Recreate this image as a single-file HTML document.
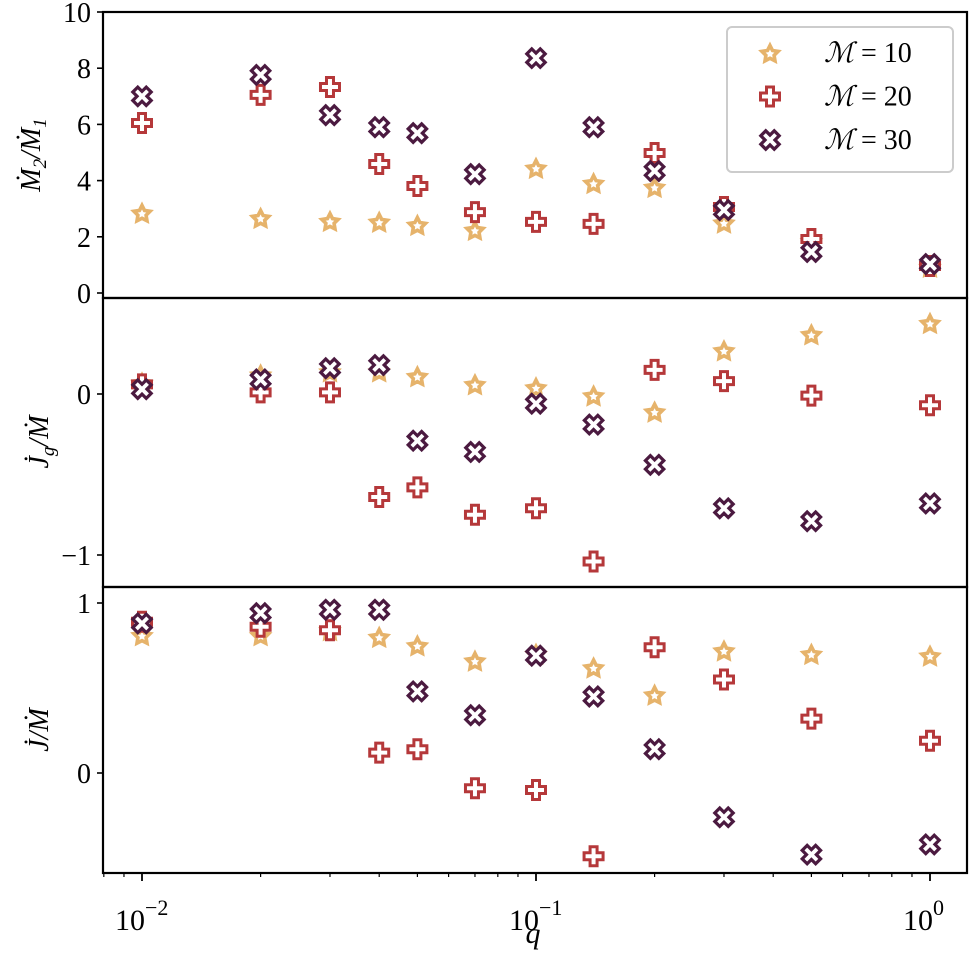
<!DOCTYPE html>
<html><head><meta charset="utf-8"><style>
body{margin:0;background:#fff}
svg{display:block;font-family:"Liberation Serif",serif}
</style></head><body>
<svg id="c" width="969" height="955" xmlns="http://www.w3.org/2000/svg"></svg>
<script>
const qValues=[0.01,0.02,0.03,0.04,0.05,0.07,0.1,0.14,0.2,0.3,0.5,1.0];
const seriesNames=["M10","M20","M30"];
const mdotM10=[2.85,2.67,2.56,2.53,2.42,2.24,4.45,3.91,3.77,2.5,1.85,0.93];
const mdotM20=[6.05,7.05,7.33,4.59,3.81,2.88,2.53,2.46,4.98,3.06,1.92,0.96];
const mdotM30=[7.0,7.76,6.33,5.9,5.69,4.23,8.36,5.9,4.34,2.95,1.46,1.03];
const jgM10=[0.07,0.12,0.14,0.14,0.11,0.06,0.04,-0.01,-0.11,0.27,0.37,0.44];
const jgM20=[0.06,0.01,0.01,-0.64,-0.58,-0.75,-0.71,-1.04,0.15,0.08,-0.01,-0.07];
const jgM30=[0.03,0.09,0.16,0.18,-0.29,-0.36,-0.06,-0.19,-0.44,-0.71,-0.79,-0.68];
const jM10=[0.81,0.81,0.84,0.80,0.75,0.66,0.70,0.62,0.46,0.72,0.70,0.69];
const jM20=[0.89,0.86,0.84,0.12,0.14,-0.09,-0.10,-0.49,0.74,0.55,0.32,0.19];
const jM30=[0.88,0.94,0.96,0.96,0.48,0.34,0.69,0.45,0.14,-0.26,-0.48,-0.42];
const ticks1=[0,2,4,6,8,10], ticks2=[-1,0], ticks3=[0,1];
const xTicks=[-2,-1,0];

const NS="http://www.w3.org/2000/svg";
const svg=document.getElementById('c');
function mk(t,a,p){const e=document.createElementNS(NS,t);for(const k in a)e.setAttribute(k,a[k]);(p||svg).appendChild(e);return e;}
const L=103,R=967;
const xs=v=>142+(Math.log10(v)+2)*394;
const panels=[
 {top:12,bot:298,y:v=>293-v*28.1,ticks:ticks1,data:[mdotM10,mdotM20,mdotM30],name:'mdot-ratio-panel'},
 {top:298,bot:587,y:v=>394-v*161,ticks:ticks2,data:[jgM10,jgM20,jgM30],name:'jg-panel'},
 {top:587,bot:873,y:v=>773-v*170,ticks:ticks3,data:[jM10,jM20,jM30],name:'j-panel'}
];
const colors=["#e6b36b","#b5383a","#4b1a40"];
const plusP="M-3.5,-9.5H3.5V-3.5H9.5V3.5H3.5V9.5H-3.5V3.5H-9.5V-3.5H-3.5Z";
function starP(ro,ri){let d="";for(let i=0;i<10;i++){const r=i%2?ri:ro,a=-Math.PI/2+i*Math.PI/5;d+=(i?"L":"M")+(r*Math.cos(a)).toFixed(2)+","+(r*Math.sin(a)).toFixed(2);}return d+"Z";}
const starPath=starP(8.5,4.3);
function marker(k,x,y,g){
 let e;
 if(k===0)e=mk('path',{d:starPath,transform:`translate(${x},${y+1})`,fill:'#fff',stroke:colors[0],'stroke-width':3.6,'stroke-linejoin':'miter'},g);
 else if(k===1)e=mk('path',{d:plusP,transform:`translate(${x},${y})`,fill:'#fff',stroke:colors[1],'stroke-width':3},g);
 else e=mk('path',{d:plusP,transform:`translate(${x},${y}) rotate(45)`,fill:'#fff',stroke:colors[2],'stroke-width':3.2},g);
 return e;
}
panels.forEach((p,pi)=>{
 const g=mk('g',{});
 
 
 p.data.forEach((arr,k)=>{
  const sg=mk('g',{},g);
  
  
  arr.forEach((v,i)=>{const m=marker(k,xs(qValues[i]),p.y(v),sg);
   
   });
 });
 const fr=mk('rect',{x:L,y:p.top,width:R-L,height:p.bot-p.top,fill:'none',stroke:'#000','stroke-width':2.2},g);
 
 
 p.ticks.forEach(t=>{const y=p.y(t);
  mk('line',{x1:L-6,x2:L,y1:y,y2:y,stroke:'#000','stroke-width':1.6},g);
  const tx=mk('text',{x:L-12,y:y+10,'text-anchor':'end','font-size':28},g);
  tx.textContent=t<0?'\u2212'+(-t):String(t);
  
  
 });
});
for(let d=-3;d<=0;d++)for(let m=1;m<10;m++){const v=m*Math.pow(10,d);const x=xs(v);if(x<L||x>R)continue;
 mk('line',{x1:x,x2:x,y1:873,y2:m===1?881:877,stroke:'#000','stroke-width':m===1?1.8:1.2});}
xTicks.forEach(e=>{const x=xs(Math.pow(10,e));
 const t=mk('text',{x:x-27,y:930,'font-size':30});
 
 
 t.innerHTML='10<tspan dy="-15" font-size="22">'+(e===0?'0':'\u2212'+(-e))+'</tspan>';
});
const xl=mk('text',{x:533,y:943,'font-size':30,'font-style':'italic','text-anchor':'middle'});xl.textContent='q';


function yl(txt,cx,cy,name){const t=mk('text',{x:0,y:0,'font-size':28,'font-style':'italic','text-anchor':'middle',transform:`translate(${cx},${cy}) rotate(-90)`});t.innerHTML=txt;
 
 }
yl('\u1E40<tspan font-size="19" dy="6">2</tspan><tspan dy="-6">/\u1E40</tspan><tspan font-size="19" dy="6">1</tspan>',40,155,'y-axis-title-mdot');
yl('J\u0307<tspan font-size="19" dy="6">g</tspan><tspan dy="-6">/\u1E40</tspan>',48,442,'y-axis-title-jg');
yl('J\u0307/\u1E40',48,730,'y-axis-title-j');
const lg=mk('g',{});


mk('rect',{x:727,y:27,width:226,height:145,rx:5,fill:'#fff',stroke:'#ccc','stroke-width':2},lg);
["10","20","30"].forEach((s,k)=>{const y=53+k*43.5;
 const m=marker(k,770,y,lg);
 
 
 const t=mk('text',{x:824,y:y+9,'font-size':28},lg);
 t.innerHTML='<tspan font-style="italic">\u2133</tspan> = '+s;
 
 
});
</script>
</body></html>
